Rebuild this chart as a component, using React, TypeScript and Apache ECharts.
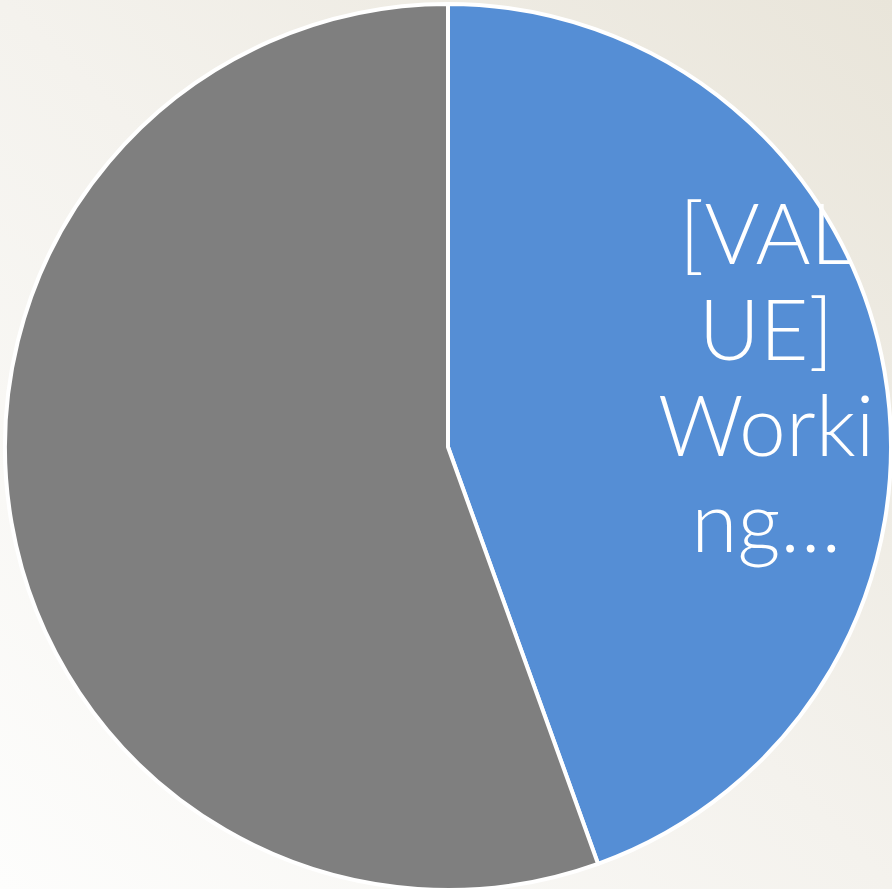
import React, { useEffect, useRef } from "react";
import * as echarts from "echarts";

const categories = ["Working…", "Other"];
const values = [44.5, 55.5];
const colors = ["#558ed5", "#7f7f7f"];
const labelTexts = ["[VAL\nUE]\nWorki\nng…", ""];

export default function App() {
  const ref = useRef<HTMLDivElement>(null);
  useEffect(() => {
    if (!ref.current) return;
    const chart = echarts.init(ref.current, null, { renderer: "svg" });
    chart.setOption({
      animation: false,
      backgroundColor: {
        type: "linear",
        x: 0,
        y: 1,
        x2: 1,
        y2: 0,
        colorStops: [
          { offset: 0, color: "#fdfdfc" },
          { offset: 0.5, color: "#f4f2ed" },
          { offset: 1, color: "#e9e5da" },
        ],
      },
      series: [
        {
          type: "pie",
          center: [448, 447],
          radius: [0, 443],
          startAngle: 90,
          clockwise: true,
          silent: true,
          itemStyle: { borderColor: "#ffffff", borderWidth: 4 },
          labelLine: { show: false },
          data: categories.map((name, i) => ({
            name,
            value: values[i],
            itemStyle: { color: colors[i] },
            label: {
              show: labelTexts[i] !== "",
              position: "inside",
              formatter: labelTexts[i],
              color: "#ffffff",
              fontFamily: "Lato",
              fontWeight: 300,
              fontSize: 84,
              lineHeight: 96,
              align: "center",
              offset: [97, -33],
            },
          })),
        },
      ],
    });
    return () => chart.dispose();
  }, []);
  return (
    <div
      ref={ref}
      style={{ position: "absolute", left: 0, top: 0, width: 892, height: 889 }}
    />
  );
}
